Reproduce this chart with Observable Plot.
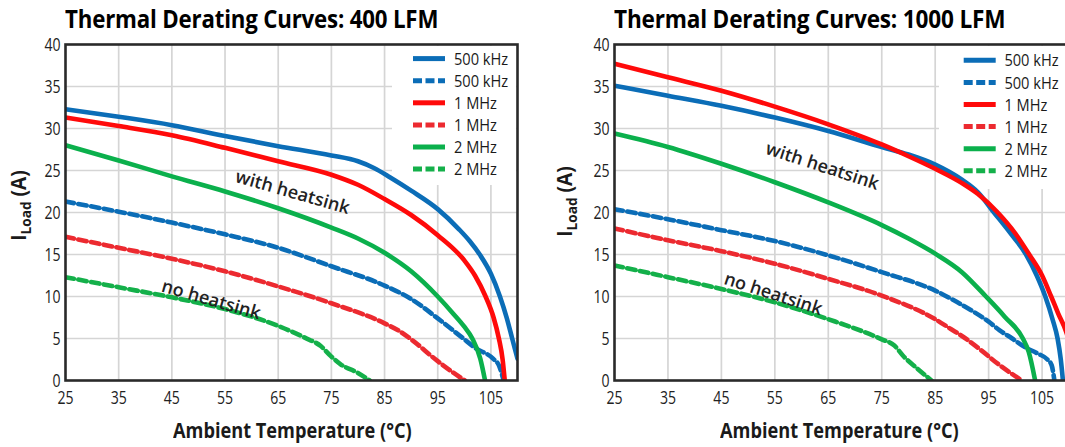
<!DOCTYPE html>
<html><head><meta charset="utf-8">
<script src="https://cdn.jsdelivr.net/npm/d3@7"></script>
<script src="https://cdn.jsdelivr.net/npm/@observablehq/plot@0.6"></script>
<style>
body{margin:0;width:1065px;height:447px;overflow:hidden;background:#fff;position:relative;font-family:'Open Sans','Noto Sans',sans-serif;color:#1a1a1a}
.panel{position:absolute;top:0;height:447px}
.fit{position:absolute;white-space:nowrap;display:inline-block;transform-origin:0 50%}
.title{top:3px;font-weight:700;font-size:25px;line-height:30px;color:#000;letter-spacing:-0.2px}
.xlabel{top:416px;font-weight:700;font-size:21px;line-height:28px;color:#1a1a1a}
.ylabel{position:absolute;font-weight:700;font-size:21px;line-height:24px;white-space:nowrap;color:#1a1a1a}
.ylabel sub{font-size:15px;vertical-align:-5px}
</style>
</head><body>
<div id="left" class="panel" style="left:0;width:535px"></div>
<div id="right" class="panel" style="left:535px;width:545px"></div>
<script>
// ---------- data ----------
const titles = ["Thermal Derating Curves: 400 LFM", "Thermal Derating Curves: 1000 LFM"];
const xLabel = "Ambient Temperature (°C)";
const xTicks = [25, 35, 45, 55, 65, 75, 85, 95, 105];
const yTicks = [0, 5, 10, 15, 20, 25, 30, 35, 40];
const seriesLabels = ["500 kHz", "500 kHz", "1 MHz", "1 MHz", "2 MHz", "2 MHz"];
const seriesColors = ["#0b6db7", "#0b6db7", "#ff0a0a", "#ec2a30", "#0bb04c", "#14b04a"];
const seriesDashed = [false, true, false, true, false, true];
const annotationTexts = ["with heatsink", "no heatsink"];

// 400 LFM
const lfm400_500k_hs = [[25,32.3],[35,31.4],[45,30.4],[55,29.1],[65,27.9],[75,26.8],[80,26.1],[83,25.3],[86,24.2],[90,22.6],[95,20.4],[99,18.0],[101,16.6],[103,14.9],[105,12.7],[106.7,10.0],[108,7.4],[109,5.0],[110,2.6]];
const lfm400_500k_no = [[25,21.3],[35,20.1],[45,18.8],[55,17.4],[65,15.8],[75,13.6],[85,11.3],[90,9.7],[95,7.4],[99.8,5.0],[102,3.9],[105.4,2.6],[106.5,1.8],[107.4,0]];
const lfm400_1m_hs = [[25,31.3],[35,30.3],[45,29.2],[55,27.7],[65,26.1],[75,24.5],[80,23.3],[85,21.6],[90,19.7],[95,17.3],[100,14.3],[102,12.5],[104,10.0],[105.5,7.5],[106.5,5.0],[107.2,2.5],[107.6,0]];
const lfm400_1m_no = [[25,17.1],[35,15.8],[45,14.5],[55,13.0],[65,11.2],[75,9.2],[85,6.8],[88,5.8],[90,4.9],[95,2.3],[98,0.9],[100.1,0]];
const lfm400_2m_hs = [[25,28.0],[35,26.2],[45,24.3],[55,22.5],[65,20.5],[75,18.2],[80,16.9],[85,15.2],[90,13.0],[95,10.0],[98,7.9],[100,6.4],[101.5,5.0],[103,2.6],[103.9,0]];
const lfm400_2m_no = [[25,12.3],[35,11.1],[45,9.9],[55,8.5],[65,6.5],[70,5.1],[73,4.1],[74.9,2.9],[76.8,1.9],[80,0.9],[82.2,0]];
const lfm400_annot = [[67.7,22.4],[52.4,9.6]];

// 1000 LFM
const lfm1000_500k_hs = [[25,35.1],[35,33.9],[45,32.7],[55,31.3],[65,29.7],[75,27.8],[80,26.9],[85,25.7],[90,23.9],[93,22.4],[96,20.0],[99,17.6],[102,15.0],[104,12.5],[105.6,10.0],[107,7.2],[107.9,5.0],[108.5,2.5],[108.9,0]];
const lfm1000_500k_no = [[25,20.4],[35,19.2],[45,17.9],[55,16.6],[65,14.9],[75,12.9],[85,10.7],[90,9.0],[95,7.0],[97,6.0],[99.4,5.0],[101.7,4.0],[104.2,3.2],[106,2.5],[106.8,1.8],[107.3,0]];
const lfm1000_1m_hs = [[25,37.7],[35,36.1],[45,34.5],[55,32.6],[65,30.5],[75,28.1],[80,26.7],[85,25.2],[90,23.5],[93,22.2],[96.7,20.0],[100,17.5],[102.6,15.0],[105,12.5],[106.7,10.0],[108,8.0],[109.5,5.8],[110.5,3.5],[111.2,1.0]];
const lfm1000_1m_no = [[25,18.1],[35,16.7],[45,15.4],[55,13.9],[65,12.1],[75,10.1],[85,7.3],[88,6.1],[90,5.3],[93.6,3.6],[96.7,2.0],[101.2,0]];
const lfm1000_2m_hs = [[25,29.4],[35,27.8],[45,25.8],[55,23.6],[65,21.2],[75,18.5],[80,16.9],[85,15.1],[90,12.9],[94.5,10.0],[98,7.6],[101.4,5.0],[102.5,3.4],[103.7,0]];
const lfm1000_2m_no = [[25,13.7],[35,12.3],[45,10.9],[55,9.3],[65,7.3],[75,4.9],[77.3,4.2],[79.2,2.8],[81.7,1.4],[84.3,0]];
const lfm1000_annot = [[63.9,25.5],[54.7,10.3]];

// ---------- drawing ----------
const baseFont = "'Open Sans','Noto Sans',sans-serif";
const TICK_SCALE = 0.74;   // condensed look of the tick labels
const LEGEND_SCALE = 0.86;

function condense(textEl, k) {
  const L = textEl.getComputedTextLength();
  if (L > 0) {
    textEl.setAttribute("textLength", (L * k).toFixed(2));
    textEl.setAttribute("lengthAdjust", "spacingAndGlyphs");
  }
}

function fitHTML(el, target, anchorMiddleAt) {
  const w = el.offsetWidth;
  const k = target / w;
  el.style.transform = `scaleX(${k})`;
  if (anchorMiddleAt != null) el.style.left = (anchorMiddleAt - target / 2) + "px";
}

function drawPanel(el, cfg) {
  const order = [1, 3, 5, 4, 0, 2];
  const lines = order.map(i => Plot.line(cfg.series[i], {
    x: d => d[0], y: d => d[1],
    stroke: seriesColors[i], strokeWidth: 4.6,
    strokeDasharray: seriesDashed[i] ? "8.5,4.5" : null,
    curve: "monotone-x", clip: true
  }));
  const annots = cfg.annot.map((p, k) => ({x: p[0], y: p[1], t: annotationTexts[k]}));
  const svg = Plot.plot({
    width: cfg.width, height: 447,
    marginTop: 44, marginBottom: 67, marginLeft: cfg.ml, marginRight: cfg.mr,
    x: {domain: cfg.xDomain, axis: null},
    y: {domain: [0, 40], axis: null},
    style: {fontFamily: baseFont, fontSize: "19px", color: "#222", background: "white", overflow: "visible"},
    marks: [
      Plot.gridX(xTicks.slice(1), {stroke: "#d5d5d5", strokeOpacity: 1, strokeWidth: 1.7}),
      Plot.gridY(yTicks.slice(1, -1), {stroke: "#d5d5d5", strokeOpacity: 1, strokeWidth: 1.7}),
      Plot.axisX(xTicks, {tickSize: 0, tickPadding: 10, fontSize: 19, label: null}),
      Plot.axisY(yTicks, {tickSize: 0, tickPadding: 5, fontSize: 19, label: null}),
      ...lines,
      Plot.text(annots, {x: "x", y: "y", text: "t", rotate: cfg.rot, fontSize: 18, fontWeight: 600,
        fontFamily: baseFont, fill: "#222"}),
      Plot.frame({stroke: "#2a2a2a", strokeWidth: 2.6})
    ]
  });

  // legend group inserted above grid, below curves
  const lg = cfg.legend;
  const g = d3.create("svg:g");
  g.append("rect").attr("x", lg.x).attr("y", lg.y).attr("width", lg.w).attr("height", lg.h).attr("fill", "#fff");
  seriesLabels.forEach((lab, i) => {
    const cy = lg.row0 + i * lg.dy;
    g.append("line").attr("x1", lg.sx).attr("x2", lg.sx + 32).attr("y1", cy).attr("y2", cy)
      .attr("stroke", seriesColors[i]).attr("stroke-width", 5)
      .attr("stroke-dasharray", seriesDashed[i] ? "9,3.5" : null);
    g.append("text").attr("x", lg.tx).attr("y", cy).attr("dy", "0.36em")
      .attr("text-anchor", "start").attr("font-size", 17).attr("fill", "#1a1a1a")
      .attr("class", "legend-text")
      .text(lab);
  });
  const gridY = svg.querySelector('g[aria-label="y-grid"]');
  gridY.after(g.node());
  el.appendChild(svg);

  svg.querySelectorAll('g[aria-label="x-axis tick label"] text, g[aria-label="y-axis tick label"] text')
    .forEach(t => condense(t, TICK_SCALE));
  svg.querySelectorAll('text.legend-text').forEach(t => condense(t, LEGEND_SCALE));

  const t = document.createElement("div");
  t.className = "fit title"; t.style.left = cfg.ml + "px"; t.textContent = cfg.title;
  el.appendChild(t);
  fitHTML(t, cfg.titleW);

  const xl = document.createElement("div");
  xl.className = "fit xlabel"; xl.textContent = xLabel;
  el.appendChild(xl);
  fitHTML(xl, 239, cfg.xlx);

  const yl = document.createElement("div");
  yl.className = "ylabel";
  yl.innerHTML = "I<sub>Load</sub> (A)";
  el.appendChild(yl);
  const w = yl.offsetWidth, h = yl.offsetHeight;
  const k = 70 / w;
  yl.style.left = (cfg.ylx - w / 2) + "px";
  yl.style.top = (cfg.yly - h / 2) + "px";
  yl.style.transform = `rotate(-90deg) scaleX(${k})`;
}

drawPanel(document.getElementById("left"), {
  title: titles[0], titleW: 373, width: 535, ml: 65, mr: 18, xDomain: [25, 110],
  series: [lfm400_500k_hs, lfm400_500k_no, lfm400_1m_hs, lfm400_1m_no, lfm400_2m_hs, lfm400_2m_no],
  annot: lfm400_annot, rot: 16,
  legend: {x: 392, y: 46, w: 124, h: 139, sx: 413, tx: 454, row0: 58.6, dy: 22.1},
  xlx: 292, ylx: 21, yly: 205
});
drawPanel(document.getElementById("right"), {
  title: titles[1], titleW: 391, width: 545, ml: 79, mr: 1, xDomain: [25, 112],
  series: [lfm1000_500k_hs, lfm1000_500k_no, lfm1000_1m_hs, lfm1000_1m_no, lfm1000_2m_hs, lfm1000_2m_no],
  annot: lfm1000_annot, rot: 18,
  legend: {x: 404, y: 46, w: 150, h: 143, sx: 428.7, tx: 469.4, row0: 60.3, dy: 22.1},
  xlx: 304.5, ylx: 32, yly: 201
});
</script>
</body></html>
